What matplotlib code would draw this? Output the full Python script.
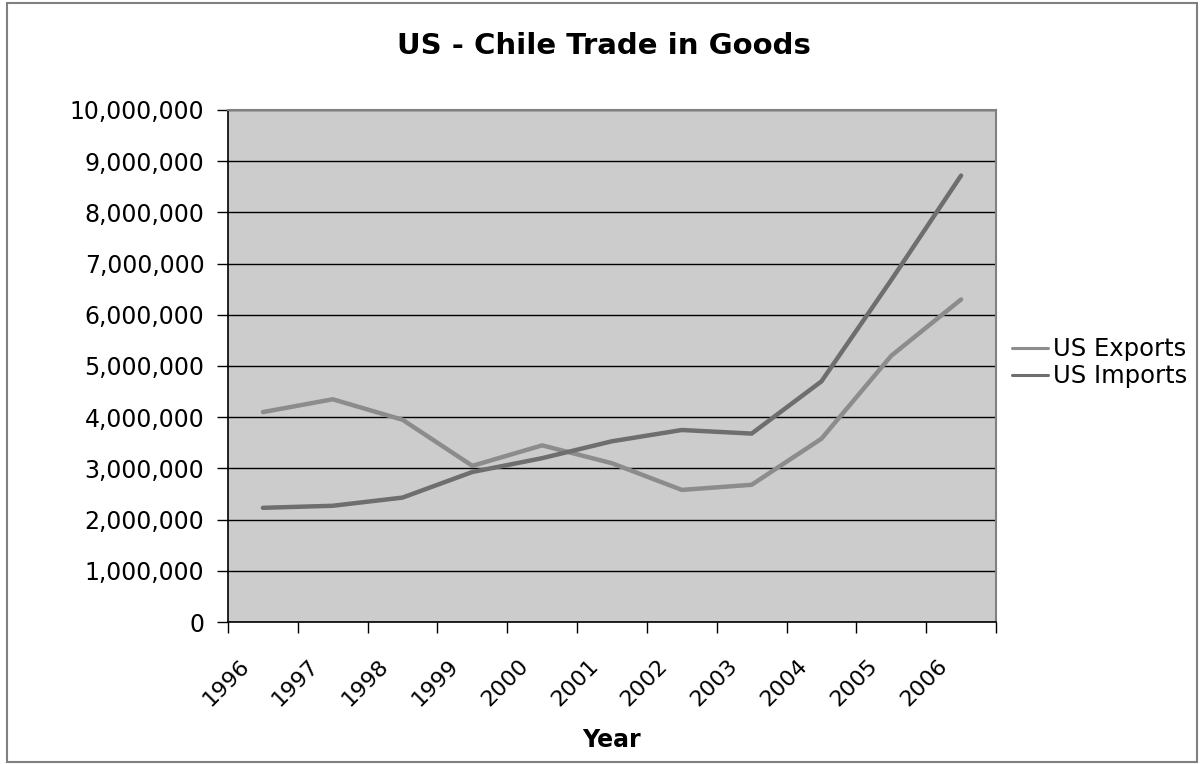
import matplotlib
matplotlib.use("Agg")
from matplotlib import pyplot as plt
from matplotlib import ticker, transforms
from matplotlib.patches import Rectangle

years = ["1996", "1997", "1998", "1999", "2000", "2001",
         "2002", "2003", "2004", "2005", "2006"]
us_exports = [4100000, 4350000, 3950000, 3050000, 3450000, 3100000,
              2580000, 2680000, 3580000, 5200000, 6300000]
us_imports = [2230000, 2270000, 2430000, 2930000, 3200000, 3530000,
              3750000, 3680000, 4700000, 6680000, 8720000]

plt.rcParams["font.family"] = "DejaVu Sans"

fig = plt.figure(figsize=(12.02, 7.64), dpi=100)
fig.patches.append(Rectangle((7 / 1202, 2 / 764), 1190 / 1202, 759 / 764,
                             transform=fig.transFigure, fill=False,
                             edgecolor="#808080", linewidth=1.5))

ax = fig.add_axes([228 / 1202, 142 / 764, 768 / 1202, 512 / 764])
ax.set_facecolor("#cccccc")

x = list(range(len(years)))
ax.plot(x, us_exports, color="#8c8c8c", linewidth=3.2, label="US Exports",
        solid_capstyle="round", zorder=3)
ax.plot(x, us_imports, color="#6e6e6e", linewidth=3.2, label="US Imports",
        solid_capstyle="round", zorder=3)

ax.set_xlim(-0.5, len(years) - 0.5)
ax.set_ylim(0, 10000000)
ax.yaxis.set_major_locator(ticker.MultipleLocator(1000000))
ax.yaxis.set_major_formatter(ticker.FuncFormatter(lambda v, p: f"{int(v):,}"))
ax.grid(axis="y", color="black", linewidth=1.0)
ax.set_axisbelow(True)

ax.set_xticks([i - 0.5 for i in range(len(years) + 1)])
ax.set_xticklabels([])
ax.set_xticks(x, minor=True)
ax.set_xticklabels(years, minor=True, rotation=45, ha="right", va="top",
                   fontsize=16)
ax.tick_params(axis="x", which="major", length=8, width=1, direction="out")
ax.tick_params(axis="x", which="minor", length=0, pad=24)
ax.tick_params(axis="y", length=8, width=1, direction="out", pad=9,
               labelsize=17)
offset = transforms.ScaledTranslation(-10 / 100, 0, fig.dpi_scale_trans)
for lbl in ax.get_xticklabels(minor=True):
    lbl.set_transform(lbl.get_transform() + offset)

for side in ["top", "right"]:
    ax.spines[side].set_color("#808080")
    ax.spines[side].set_linewidth(1.5)
for side in ["left", "bottom"]:
    ax.spines[side].set_color("black")
    ax.spines[side].set_linewidth(1.2)

ax.set_xlabel("Year", fontsize=17, fontweight="bold", labelpad=13)
fig.text(604 / 1202, 1 - 46 / 764, "US - Chile Trade in Goods",
         ha="center", va="center", fontsize=21, fontweight="bold")

leg = ax.legend(loc="center left", bbox_to_anchor=(1.008, 0.506),
                frameon=False, fontsize=17.5, handlelength=1.5,
                handletextpad=0.2, labelspacing=0.12, borderaxespad=0)
for line in leg.get_lines():
    line.set_linewidth(2.2)

fig.savefig("out.png", dpi=100)
